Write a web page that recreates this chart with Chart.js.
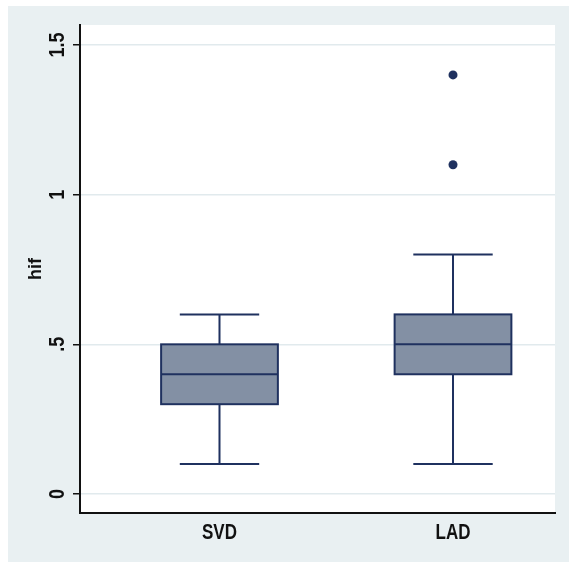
<!DOCTYPE html>
<html>
<head>
<meta charset="utf-8">
<script src="https://cdn.jsdelivr.net/npm/chart.js@4"></script>
<style>
  html, body { margin: 0; padding: 0; background: #fff; }
  #wrap { width: 569px; height: 562px; }
</style>
</head>
<body>
<div id="wrap"><canvas id="chart" width="569" height="562"></canvas></div>
<script>
// box plot summary values per group
const categories = ['SVD', 'LAD']
const lowerWhisker = [0.1, 0.1]
const q1 = [0.3, 0.4]
const median = [0.4, 0.5]
const q3 = [0.5, 0.6]
const upperWhisker = [0.6, 0.8]
const outliers = [[], [1.1, 1.4]]

const yTicks = [0, 0.5, 1, 1.5]
const yTickLabels = ['0', '.5', '1', '1.5']
const yTitle = 'hif'

const BG = '#e9f0f2'
const GRID = '#e1eaed'
const BOX_FILL = '#8390a4'
const BOX_LINE = '#1f315f'
const FONT = '"Liberation Sans", Arial, sans-serif'

// Stata's axis text is drawn a bit taller than plain Arial
function tallText(ctx, text, x, y, angle, stretch) {
  ctx.save()
  ctx.translate(x, y)
  ctx.rotate(angle)
  ctx.scale(1, stretch)
  ctx.fillText(text, 0, 0)
  ctx.restore()
}

const boxPlugin = {
  id: 'boxes',
  beforeDraw(chart) {
    const { ctx, chartArea } = chart
    ctx.save()
    ctx.fillStyle = BG
    ctx.fillRect(8, 6, chart.width - 8, chart.height - 6)
    ctx.fillStyle = '#fff'
    ctx.fillRect(chartArea.left, chartArea.top, chartArea.right - chartArea.left, chartArea.bottom - chartArea.top)
    ctx.restore()
  },
  beforeDatasetsDraw(chart) {
    const { ctx } = chart
    const x = chart.scales.x
    const y = chart.scales.y
    ctx.save()
    ctx.lineWidth = 2
    ctx.strokeStyle = BOX_LINE
    categories.forEach((c, i) => {
      const pos = i + 1
      const cx = x.getPixelForValue(pos)
      const boxL = x.getPixelForValue(pos - 0.25)
      const boxR = x.getPixelForValue(pos + 0.25)
      const capL = x.getPixelForValue(pos - 0.17)
      const capR = x.getPixelForValue(pos + 0.17)
      const yLo = y.getPixelForValue(lowerWhisker[i])
      const yQ1 = y.getPixelForValue(q1[i])
      const yMed = y.getPixelForValue(median[i])
      const yQ3 = y.getPixelForValue(q3[i])
      const yHi = y.getPixelForValue(upperWhisker[i])

      // whiskers
      ctx.beginPath()
      ctx.moveTo(cx, yQ3); ctx.lineTo(cx, yHi)
      ctx.moveTo(capL, yHi); ctx.lineTo(capR, yHi)
      ctx.moveTo(cx, yQ1); ctx.lineTo(cx, yLo)
      ctx.moveTo(capL, yLo); ctx.lineTo(capR, yLo)
      ctx.stroke()

      // box
      ctx.fillStyle = BOX_FILL
      ctx.fillRect(boxL, yQ3, boxR - boxL, yQ1 - yQ3)
      ctx.strokeRect(boxL, yQ3, boxR - boxL, yQ1 - yQ3)

      // median
      ctx.beginPath()
      ctx.moveTo(boxL, yMed); ctx.lineTo(boxR, yMed)
      ctx.stroke()
    })
    ctx.restore()
  },
  afterDraw(chart) {
    const { ctx } = chart
    const x = chart.scales.x
    const y = chart.scales.y
    ctx.save()
    ctx.fillStyle = '#111'
    ctx.textAlign = 'center'
    ctx.textBaseline = 'middle'

    // rotated y tick labels
    ctx.font = 'bold 18px ' + FONT
    y.ticks.forEach((t, i) => {
      tallText(ctx, yTickLabels[i], 58, y.getPixelForValue(t.value), -Math.PI / 2, 1.25)
    })

    // category labels under the boxes
    ctx.font = 'bold 17px ' + FONT
    x.ticks.forEach((t, i) => {
      tallText(ctx, categories[i], x.getPixelForValue(t.value), 533, 0, 1.35)
    })
    ctx.restore()
  }
}

const outlierData = []
outliers.forEach((vals, i) => vals.forEach(v => outlierData.push({ x: i + 1, y: v })))

new Chart(document.getElementById('chart'), {
  type: 'scatter',
  data: {
    datasets: [{
      label: 'outliers',
      data: outlierData,
      pointRadius: 4.5,
      pointHoverRadius: 4.5,
      backgroundColor: BOX_LINE,
      borderWidth: 0
    }]
  },
  options: {
    responsive: false,
    animation: false,
    events: [],
    layout: { padding: { top: 25, right: 14, left: 0, bottom: 0 } },
    plugins: {
      legend: { display: false },
      tooltip: { enabled: false }
    },
    scales: {
      x: {
        type: 'linear',
        min: 0.4026,
        max: 2.4368,
        afterBuildTicks: (scale) => { scale.ticks = categories.map((c, i) => ({ value: i + 1 })) },
        afterFit: (scale) => { scale.height = 49 },
        grid: { display: false, drawTicks: false },
        border: { display: true, color: '#111', width: 2 },
        ticks: { display: false }
      },
      y: {
        min: -0.0635,
        max: 1.5668,
        afterBuildTicks: (scale) => { scale.ticks = yTicks.map(v => ({ value: v })) },
        afterFit: (scale) => { scale.width = 80 },
        grid: { color: GRID, lineWidth: 1.5, tickColor: '#111', tickLength: 7, drawTicks: true },
        border: { display: true, color: '#111', width: 2 },
        ticks: { display: false },
        title: {
          display: true,
          text: yTitle,
          color: '#111',
          padding: { top: 25, bottom: 0 },
          font: { family: FONT, size: 18, weight: 'bold' }
        }
      }
    }
  },
  plugins: [boxPlugin]
})
</script>
</body>
</html>
